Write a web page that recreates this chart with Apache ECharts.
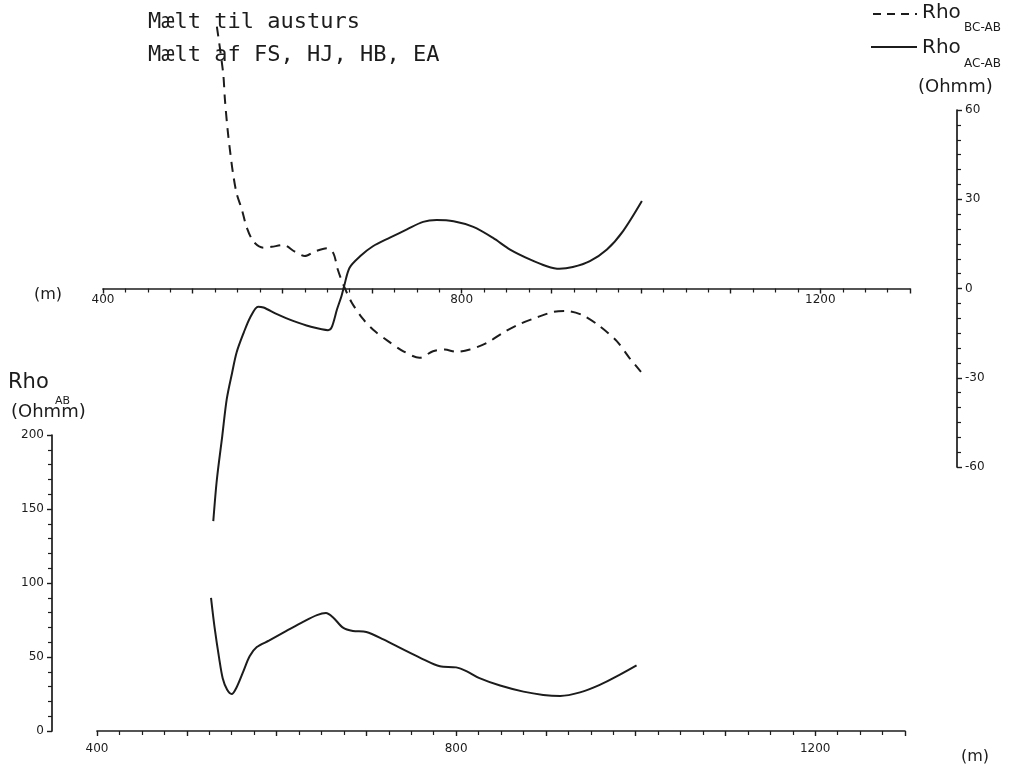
<!DOCTYPE html>
<html><head><meta charset="utf-8">
<script src="https://cdn.jsdelivr.net/npm/echarts@6/dist/echarts.min.js"></script>
<style>html,body{margin:0;padding:0;background:#fff}#c{width:1016px;height:769px}</style>
</head><body><div id="c"></div>
<script>
// Rho BC-AB (dashed, right axis, Ohmm)
const bcX   = [527, 534, 536, 539, 542, 545, 549, 555, 560, 568, 579, 588, 601, 614, 625, 636, 650, 657, 662, 669, 677, 689, 701, 718, 735, 753, 768, 781, 794, 809, 828, 846, 865, 884, 902, 917, 935, 954, 973, 987, 1000];
const bcRho = [88, 72.4, 63.4, 53.3, 45.5, 38.7, 32, 26.4, 20.8, 15.7, 13.7, 14, 14.6, 12.4, 10.9, 12.4, 13.5, 11.8, 6.2, 0.6, -4.5, -9.9, -13.8, -17.7, -21.1, -23.3, -21.1, -20.5, -21.3, -20.5, -18.3, -14.9, -11.9, -9.7, -7.9, -7.6, -9, -12.7, -17.7, -23.3, -28];
// Rho AC-AB (solid, right axis, Ohmm)
const acX   = [523, 527, 533, 538, 544, 549, 557, 564, 573, 579, 594, 612, 631, 651, 655, 661, 666, 669, 675, 687, 701, 720, 739, 757, 772, 791, 813, 835, 854, 876, 895, 909, 924, 943, 962, 980, 1001];
const acRho = [-78.2, -64.2, -49.6, -37.2, -28.3, -21.5, -14.8, -9.8, -6.1, -6.4, -8.6, -10.9, -12.8, -14, -13.1, -7, -2.5, 0.9, 7, 10.9, 14.2, 17.1, 19.9, 22.4, 23, 22.6, 20.7, 17, 13.1, 9.8, 7.5, 6.6, 7.2, 9.2, 13.1, 19.3, 29.4];
// Rho AB (solid, left axis, Ohmm)
const abX   = [527, 531, 536, 540, 545, 550, 555, 563, 570, 578, 592, 611, 630, 645, 655, 663, 674, 685, 700, 719, 741, 760, 782, 800, 812, 826, 849, 875, 897, 916, 938, 960, 982, 1001];
const abRho = [89.9, 69.8, 49.4, 35.7, 27.8, 25, 28.9, 40.3, 50.5, 56.7, 61.2, 67.6, 73.9, 78.3, 79.7, 76.7, 69.8, 67.6, 66.9, 61.9, 55.1, 49.4, 43.7, 43, 40.3, 35.7, 30.7, 26.6, 24.4, 23.7, 26.1, 31.2, 38, 44.4];
// tick labels
const xTickLabels = [400, 800, 1200];
const rightTicks = [-60, -30, 0, 30, 60];
const leftTicks = [0, 50, 100, 150, 200];

const zip = (xs, ys) => xs.map((x, i) => [x, ys[i]]);
const ink = '#1c1c1c';
const FONT = 'DejaVu Sans';
const lbl = {fontFamily: FONT, fontSize: 12, color: ink};

// top panel geometry: y range -60..60 over 357 px, zero line in the middle
const TOP_H = 357;

function xAxisCfg(grid, offset, margin) {
  return {
    gridIndex: grid, type: 'value', position: 'bottom', offset: offset,
    min: 400, max: 1300, interval: 100,
    axisLine: {show: true, onZero: false, lineStyle: {color: ink, width: 1.7}},
    axisTick: {show: true, length: 5, lineStyle: {color: ink, width: 1.4}},
    minorTick: {show: true, splitNumber: 4, length: 4, lineStyle: {color: ink, width: 1.2}},
    axisLabel: Object.assign({}, lbl, {margin: margin, formatter: v => xTickLabels.includes(v) ? String(v) : ''}),
    splitLine: {show: false}
  };
}

const txt = (x, y, s, size, extra) => Object.assign({
  type: 'text', left: x, top: y,
  style: {text: s, font: size + 'px "' + FONT + '"', fill: ink}
}, extra || {});

const option = {
  animation: false,
  backgroundColor: '#ffffff',
  grid: [
    {left: 103, right: 106, top: 110, height: TOP_H},
    {left: 97, right: 111, top: 435, height: 296}
  ],
  xAxis: [xAxisCfg(0, -TOP_H / 2, 5), xAxisCfg(1, 0, 12)],
  yAxis: [
    {
      gridIndex: 0, type: 'value', position: 'right', offset: 47,
      min: rightTicks[0], max: rightTicks[rightTicks.length - 1], interval: 30,
      axisLine: {show: true, onZero: false, lineStyle: {color: ink, width: 1.7}},
      axisTick: {show: true, length: 5, lineStyle: {color: ink, width: 1.4}},
      minorTick: {show: true, splitNumber: 6, length: 4, lineStyle: {color: ink, width: 1.2}},
      axisLabel: Object.assign({}, lbl, {margin: 8, formatter: v => rightTicks.includes(v) ? String(v) : ''}),
      splitLine: {show: false}
    },
    {
      gridIndex: 1, type: 'value', position: 'left', offset: 45,
      min: leftTicks[0], max: leftTicks[leftTicks.length - 1], interval: 50,
      axisLine: {show: true, onZero: false, lineStyle: {color: ink, width: 1.7}},
      axisTick: {show: true, length: 5, lineStyle: {color: ink, width: 1.4}},
      minorTick: {show: true, splitNumber: 5, length: 4, lineStyle: {color: ink, width: 1.2}},
      axisLabel: Object.assign({}, lbl, {margin: 8, formatter: v => leftTicks.includes(v) ? String(v) : ''}),
      splitLine: {show: false}
    }
  ],
  series: [
    {name: 'Rho BC-AB', type: 'line', xAxisIndex: 0, yAxisIndex: 0, data: zip(bcX, bcRho),
     showSymbol: false, smooth: 0.3, clip: false,
     lineStyle: {color: ink, width: 2, type: [10, 7]}},
    {name: 'Rho AC-AB', type: 'line', xAxisIndex: 0, yAxisIndex: 0, data: zip(acX, acRho),
     showSymbol: false, smooth: 0.3, clip: false,
     lineStyle: {color: ink, width: 2}},
    {name: 'Rho AB', type: 'line', xAxisIndex: 1, yAxisIndex: 1, data: zip(abX, abRho),
     showSymbol: false, smooth: 0.3, clip: false,
     lineStyle: {color: ink, width: 2}}
  ],
  graphic: [
    {type: 'text', left: 148, top: 11, style: {text: 'Mælt til austurs', font: '22px "DejaVu Sans Mono"', fill: ink}},
    {type: 'text', left: 148, top: 44, style: {text: 'Mælt af FS, HJ, HB, EA', font: '22px "DejaVu Sans Mono"', fill: ink}},
    // legend
    {type: 'line', shape: {x1: 873, y1: 14, x2: 917, y2: 14}, style: {stroke: ink, lineWidth: 1.8, lineDash: [8, 6]}},
    txt(922, 3, 'Rho', 20),
    txt(964, 22, 'BC-AB', 12),
    {type: 'line', shape: {x1: 871, y1: 47, x2: 917, y2: 47}, style: {stroke: ink, lineWidth: 1.8}},
    txt(922, 38, 'Rho', 20),
    txt(964, 58, 'AC-AB', 12),
    txt(918, 78, '(Ohmm)', 18),
    // left axis title
    txt(8, 372, 'Rho', 21),
    txt(55, 396, 'AB', 11),
    txt(11, 403, '(Ohmm)', 18),
    // units
    txt(34, 287, '(m)', 16),
    txt(961, 749, '(m)', 16)
  ]
};
const chart = echarts.init(document.getElementById('c'));
chart.setOption(option);
</script>
</body></html>
